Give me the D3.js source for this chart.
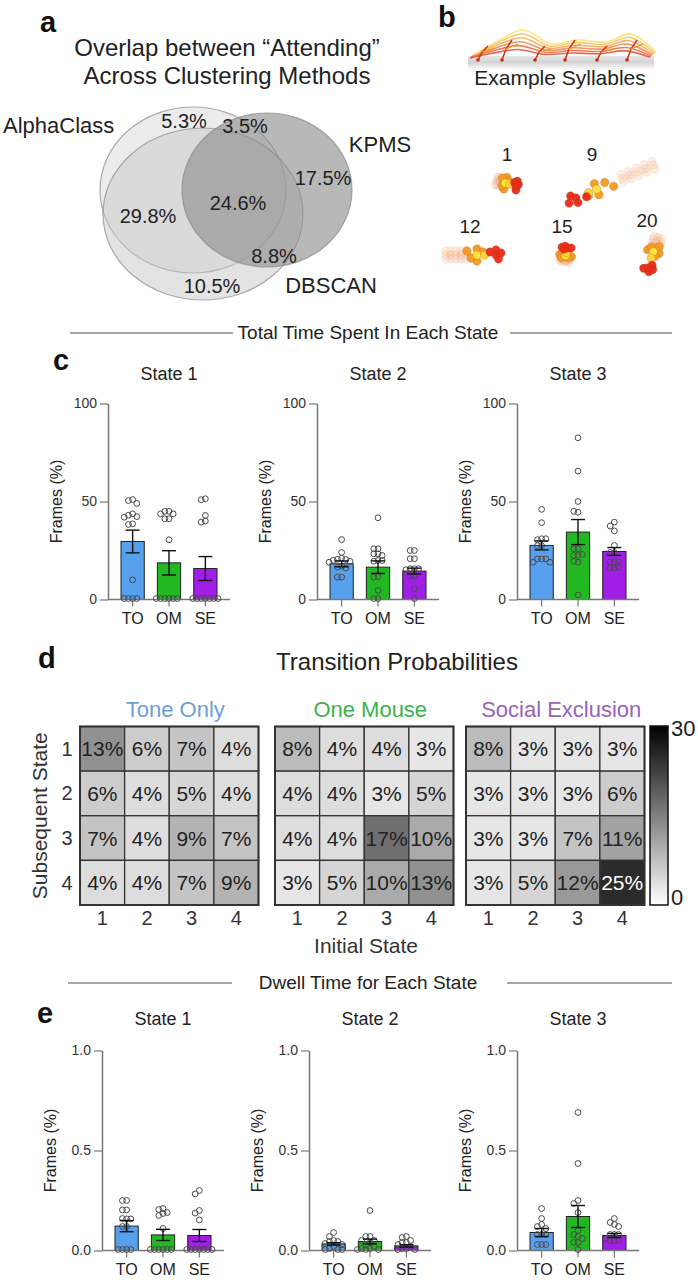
<!DOCTYPE html>
<html>
<head>
<meta charset="utf-8">
<script src="https://cdn.jsdelivr.net/npm/d3@7"></script>
<style>
  body { margin: 0; background: #fff; }
  svg text { font-family: "Liberation Sans", Arial, Helvetica, sans-serif; }
</style>
</head>
<body>
<div id="fig"></div>
<script>
// ---------- data ----------
const groups = ["TO", "OM", "SE"];
const groupColors = ["#57a0ee", "#22b822", "#a01ee6"];
const stateNames = ["State 1", "State 2", "State 3"];

// total time spent in each state (% frames)
const timeMeans = [[29.6, 18.7, 15.8], [18.2, 16.5, 14.5], [27.6, 34.4, 24.5]];
const timeSem = [[5.8, 6.2, 6.1], [1.5, 3.2, 1.5], [2.3, 6.4, 2.0]];
const timePts1 = [
  [51, 50.5, 49, 43.7, 43, 42.3, 42, 38.6, 38.3, 10, 0.5, 0.5, 0.5, 0.5],
  [45, 45, 43.7, 43.7, 41.2, 41.2, 30.5, 0.5, 0.5, 0.5, 0.5, 0.5, 0.5],
  [51.4, 50.9, 42.9, 40, 39.5, 0.5, 0.5, 0.5, 0.5, 0.5, 0.5, 0.5]
];
const timePts2 = [
  [30.6, 24, 21, 20.5, 20.4, 20, 19.5, 19, 17, 16.5, 16, 11.4, 11.4],
  [41.7, 25.9, 25.9, 23.3, 23.3, 22.5, 19.9, 19.5, 19.9, 11.7, 11.4, 4.6, 0.5, 0.5],
  [25, 25, 20.8, 20.8, 15.7, 15.7, 15.7, 15.2, 12.2, 12.2, 5.5, 0.5]
];
const timePts3 = [
  [46, 39.2, 31, 30.5, 31, 27.5, 27.5, 20.7, 20.7, 20.7, 19, 19],
  [82.5, 65.5, 50, 44.5, 45, 25.9, 25.9, 22.5, 22.5, 23, 19, 19.5, 2.3],
  [39.5, 37.5, 35, 27.6, 24, 24, 19.2, 19.2, 19.2, 16, 16, 16.5]
];

// dwell time for each state
const dwellMeans = [[0.122, 0.078, 0.075], [0.033, 0.045, 0.023], [0.09, 0.17, 0.075]];
const dwellSem = [[0.028, 0.028, 0.03], [0.006, 0.012, 0.006], [0.02, 0.055, 0.01]];
const dwellPts1 = [
  [0.25, 0.25, 0.203, 0.203, 0.158, 0.16, 0.158, 0.12, 0.12, 0.005, 0.005, 0.005, 0.005],
  [0.21, 0.205, 0.19, 0.185, 0.175, 0.11, 0.005, 0.005, 0.005, 0.005, 0.005, 0.005],
  [0.30, 0.283, 0.2, 0.187, 0.153, 0.005, 0.005, 0.005, 0.005, 0.005, 0.005, 0.005]
];
const dwellPts2 = [
  [0.09, 0.07, 0.05, 0.045, 0.045, 0.035, 0.03, 0.02, 0.01, 0.005, 0.005, 0.005],
  [0.2, 0.07, 0.07, 0.05, 0.05, 0.04, 0.03, 0.02, 0.01, 0.01, 0.005, 0.005, 0.005],
  [0.07, 0.065, 0.05, 0.04, 0.04, 0.03, 0.02, 0.01, 0.01, 0.005, 0.005]
];
const dwellPts3 = [
  [0.21, 0.16, 0.13, 0.12, 0.11, 0.08, 0.08, 0.08, 0.03, 0.03, 0.03],
  [0.69, 0.435, 0.25, 0.235, 0.19, 0.1, 0.08, 0.07, 0.06, 0.04, 0.04, 0.005],
  [0.16, 0.14, 0.13, 0.12, 0.08, 0.08, 0.08, 0.06, 0.05, 0.05, 0.05]
];

// transition probabilities (rows: subsequent state, cols: initial state)
const heatNames = ["Tone Only", "One Mouse", "Social Exclusion"];
const heatColors = ["#6e9fdb", "#3bb44a", "#9a62ba"];
const heatTO = [[13, 6, 7, 4], [6, 4, 5, 4], [7, 4, 9, 7], [4, 4, 7, 9]];
const heatOM = [[8, 4, 4, 3], [4, 4, 3, 5], [4, 4, 17, 10], [3, 5, 10, 13]];
const heatSE = [[8, 3, 3, 3], [3, 3, 3, 6], [3, 3, 7, 11], [3, 5, 12, 25]];
const stateIdx = [1, 2, 3, 4];

// venn
const vennSets = ["AlphaClass", "KPMS", "DBSCAN"];
const vennPct = ["5.3%", "3.5%", "17.5%", "24.6%", "29.8%", "8.8%", "10.5%"];

// example syllables
const syllables = [1, 9, 12, 15, 20];

// ---------- drawing ----------
const W = 698, H = 1280;
const svg = d3.select("#fig").append("svg").attr("width", W).attr("height", H);
const defs = svg.append("defs");

// panel letters
[["a", 40, 32], ["b", 438, 27], ["c", 53, 370], ["d", 38, 668], ["e", 37, 1023]].forEach(d => {
  svg.append("text").attr("x", d[1]).attr("y", d[2]).attr("font-size", 29)
    .attr("font-weight", 700).attr("fill", "#111").text(d[0]);
});

// ---- a: venn ----
svg.append("text").attr("x", 227).attr("y", 56).attr("text-anchor", "middle")
  .attr("font-size", 24).attr("fill", "#222").text("Overlap between \u201CAttending\u201D");
svg.append("text").attr("x", 227).attr("y", 84).attr("text-anchor", "middle")
  .attr("font-size", 24).attr("fill", "#222").text("Across Clustering Methods");

const ellipses = [
  {cx: 193, cy: 190, rx: 93, ry: 83, fill: "#c8c8c8", op: 0.35},
  {cx: 203, cy: 214, rx: 100, ry: 86, fill: "#c8c8c8", op: 0.5},
  {cx: 267, cy: 190, rx: 85, ry: 77, fill: "#8c8c8c", op: 0.62}
];
svg.append("g").selectAll("ellipse").data(ellipses).join("ellipse")
  .attr("cx", d => d.cx).attr("cy", d => d.cy).attr("rx", d => d.rx).attr("ry", d => d.ry)
  .attr("fill", d => d.fill).attr("fill-opacity", d => d.op)
  .attr("stroke", "#8a8a8a").attr("stroke-opacity", 0.7).attr("stroke-width", 1.2);

const vennNamePos = [[3, 133, "start"], [380, 152, "middle"], [331, 293, "middle"]];
vennSets.forEach((s, i) => {
  svg.append("text").attr("x", vennNamePos[i][0]).attr("y", vennNamePos[i][1])
    .attr("text-anchor", vennNamePos[i][2]).attr("font-size", 22).attr("fill", "#222").text(s);
});
const vennPctPos = [[184, 128], [245, 133], [323, 185], [238, 210], [148, 223], [274, 263], [212, 293]];
vennPct.forEach((p, i) => {
  svg.append("text").attr("x", vennPctPos[i][0]).attr("y", vennPctPos[i][1])
    .attr("text-anchor", "middle").attr("font-size", 20).attr("fill", "#222").text(p);
});

// ---- b: example syllables ----
const shadow = defs.append("linearGradient").attr("id", "shadow").attr("x1", 0).attr("x2", 0).attr("y1", 0).attr("y2", 1);
shadow.append("stop").attr("offset", "0%").attr("stop-color", "#e6e6e6");
shadow.append("stop").attr("offset", "45%").attr("stop-color", "#d4d4d4");
shadow.append("stop").attr("offset", "100%").attr("stop-color", "#ffffff");
svg.append("rect").attr("x", 468).attr("y", 56).attr("width", 186).attr("height", 14).attr("fill", "url(#shadow)");

const skel = svg.append("g");
const spineX = [470, 490, 518, 545, 572, 600, 625, 650];
const spineH = [6, 18, 30, 16, 20, 18, 26, 8];
const skLine = d3.line().curve(d3.curveCatmullRom);
d3.range(6).forEach(f => {
  const c = d3.interpolateRgb("#e2341c", "#f8dc55")(f / 5);
  skel.append("path")
    .attr("d", skLine(spineX.map((x, i) => [x + f * 1.2, 60 - spineH[i] * (0.35 + 0.13 * f)])))
    .attr("fill", "none").attr("stroke", c).attr("stroke-width", 1.6).attr("stroke-opacity", 0.75);
});
[478, 502, 535, 565, 597, 627].forEach((x, i) => {
  const h = 14 + (i % 2) * 6;
  skel.append("path").attr("d", `M${x},60 L${x + 4},${60 - h * 0.55} L${x + 10},${60 - h}`)
    .attr("fill", "none").attr("stroke", "#cf3a1c").attr("stroke-width", 1.6);
  skel.append("path").attr("d", `M${x + 4},${60 - h * 0.55} L${x + 16},${60 - h * 0.8}`)
    .attr("fill", "none").attr("stroke", "#e6a025").attr("stroke-width", 1.3);
  skel.append("circle").attr("cx", x).attr("cy", 60).attr("r", 1.8).attr("fill", "#c62a18");
});
svg.append("text").attr("x", 560).attr("y", 85).attr("text-anchor", "middle")
  .attr("font-size", 21).attr("fill", "#222").text("Example Syllables");

// pose blobs: head position, direction toward tail (deg), tail length
const blobSpec = [
  {lx: 507, ly: 161, hx: 516, hy: 186, ang: 195, len: 20},
  {lx: 592, ly: 161, hx: 576, hy: 198, ang: -23, len: 84},
  {lx: 470, ly: 233, hx: 496, hy: 255, ang: 180, len: 50},
  {lx: 562, ly: 233, hx: 567, hy: 248, ang: 100, len: 14},
  {lx: 647, ly: 227, hx: 648, hy: 268, ang: -72, len: 32}
];
const blobs = svg.append("g");
syllables.forEach((s, i) => {
  const b = blobSpec[i];
  blobs.append("text").attr("x", b.lx).attr("y", b.ly).attr("text-anchor", "middle")
    .attr("font-size", 19).attr("fill", "#222").text(s);
  const ux = Math.cos(b.ang * Math.PI / 180), uy = Math.sin(b.ang * Math.PI / 180);
  const px = -uy, py = ux;
  const at = (t, o) => [b.hx + ux * b.len * t + px * o, b.hy + uy * b.len * t + py * o];
  const pts = [];
  // faded tail
  [1.0, 0.9, 0.8, 0.7, 0.6].forEach((t, k) => {
    pts.push({p: at(t, 0), c: k % 2 ? "#f7b4a4" : "#fbd690", o: 0.35});
    pts.push({p: at(t, 4), c: "#f9c8a0", o: 0.3});
    pts.push({p: at(t, -4), c: "#f9c0b0", o: 0.3});
  });
  // body: orange ring, yellow core
  const bt = Math.min(0.45, 14 / Math.max(b.len, 1)) + 0.1;
  [[bt, 6], [bt, -6], [bt - 0.12, 3], [bt + 0.12, -3], [bt + 0.2, 4]].forEach(q =>
    pts.push({p: at(q[0], q[1]), c: "#f39a22", o: 0.95}));
  pts.push({p: at(bt, 0), c: "#ffe53a", o: 1});
  pts.push({p: at(bt * 0.6, 0), c: "#ffd23a", o: 1});
  // red head
  [[0, 0], [0, 5], [-0.05, -4], [0.12, 3], [-0.1, 2]].forEach(q =>
    pts.push({p: at(q[0], q[1]), c: "#e82a1a", o: 0.95}));
  blobs.selectAll(null).data(pts).join("circle")
    .attr("cx", d => d.p[0]).attr("cy", d => d.p[1]).attr("r", 4.2)
    .attr("fill", d => d.c).attr("fill-opacity", d => d.o)
    .attr("stroke", "#b85a1a").attr("stroke-opacity", d => d.o * 0.5).attr("stroke-width", 0.6);
});

// ---- section dividers ----
function divider(y, label, left, right) {
  svg.append("line").attr("x1", left[0]).attr("x2", left[1]).attr("y1", y).attr("y2", y)
    .attr("stroke", "#888").attr("stroke-width", 1.5);
  svg.append("line").attr("x1", right[0]).attr("x2", right[1]).attr("y1", y).attr("y2", y)
    .attr("stroke", "#888").attr("stroke-width", 1.5);
  svg.append("text").attr("x", 368).attr("y", y + 6).attr("text-anchor", "middle")
    .attr("font-size", 19).attr("fill", "#222").text(label);
}
divider(333, "Total Time Spent In Each State", [70, 233], [510, 672]);
divider(983, "Dwell Time for Each State", [68, 232], [507, 672]);

// ---- bar charts ----
function swarm(vals, y, cx, r) {
  const placed = [];
  const offs = [0, -1, 1, -2, 2, -3, 3, -4, 4];
  return vals.map(v => {
    const yy = y(v);
    for (const o of offs) {
      const xx = cx + o * r * 1.4;
      if (placed.every(p => Math.hypot(p[0] - xx, p[1] - yy) >= r * 1.35)) {
        placed.push([xx, yy]);
        return [xx, yy];
      }
    }
    placed.push([cx, yy]);
    return [cx, yy];
  });
}

function barChart(cfg) {
  const g = svg.append("g");
  const y = d3.scaleLinear().domain([0, cfg.max]).range([cfg.y0, cfg.y0 - cfg.h]);
  const x = d3.scaleBand().domain(groups).range([cfg.x0 + 13, cfg.x0 + 109]).paddingInner(0.36).paddingOuter(0);

  g.append("text").attr("x", cfg.x0 + 61).attr("y", cfg.titleY).attr("text-anchor", "middle")
    .attr("font-size", 18).attr("fill", "#222").text(cfg.title);

  const ya = g.append("g").attr("transform", `translate(${cfg.x0},0)`)
    .call(d3.axisLeft(y).tickValues(cfg.ticks).tickFormat(cfg.fmt).tickSize(8).tickPadding(3).tickSizeOuter(0));
  ya.select(".domain").attr("stroke", "#777").attr("stroke-width", 1.5);
  ya.selectAll(".tick line").attr("stroke", "#777").attr("stroke-width", 1.2);
  ya.selectAll(".tick text").attr("font-size", 14).attr("fill", "#333")
    .attr("font-family", '"Liberation Sans", Arial, sans-serif');

  g.append("text").attr("transform", `translate(${cfg.x0 - 46},${cfg.y0 - cfg.h / 2}) rotate(-90)`)
    .attr("text-anchor", "middle").attr("font-size", 16).attr("fill", "#222").text("Frames (%)");

  g.selectAll("rect.bar").data(groups).join("rect").attr("class", "bar")
    .attr("x", d => x(d)).attr("width", x.bandwidth())
    .attr("y", (d, i) => y(cfg.means[i])).attr("height", (d, i) => cfg.y0 - y(cfg.means[i]))
    .attr("fill", (d, i) => groupColors[i]).attr("stroke", "#222").attr("stroke-width", 1);

  const xa = g.append("g").attr("transform", `translate(0,${cfg.y0})`)
    .call(d3.axisBottom(x).tickSize(7).tickPadding(6).tickSizeOuter(0));
  xa.select(".domain").remove();
  xa.selectAll(".tick line").attr("stroke", "#777").attr("stroke-width", 1.2);
  xa.selectAll(".tick text").attr("font-size", 16).attr("fill", "#222")
    .attr("font-family", '"Liberation Sans", Arial, sans-serif');
  g.append("line").attr("x1", cfg.x0).attr("x2", cfg.x0 + 122).attr("y1", cfg.y0).attr("y2", cfg.y0)
    .attr("stroke", "#777").attr("stroke-width", 1.5);

  groups.forEach((gr, i) => {
    const cx = x(gr) + x.bandwidth() / 2;
    const pos = swarm(cfg.points[i], y, cx, 3);
    g.selectAll(null).data(pos).join("circle")
      .attr("cx", d => d[0]).attr("cy", d => d[1]).attr("r", 2.9)
      .attr("fill", "none").attr("stroke", "#4a4a4a").attr("stroke-width", 1);
    const lo = y(cfg.means[i] - cfg.sems[i]), hi = y(cfg.means[i] + cfg.sems[i]);
    g.append("line").attr("x1", cx).attr("x2", cx).attr("y1", lo).attr("y2", hi)
      .attr("stroke", "#111").attr("stroke-width", 1.4);
    [lo, hi].forEach(v => g.append("line").attr("x1", cx - 7).attr("x2", cx + 7)
      .attr("y1", v).attr("y2", v).attr("stroke", "#111").attr("stroke-width", 1.4));
  });
}

const timePts = [timePts1, timePts2, timePts3];
const dwellPts = [dwellPts1, dwellPts2, dwellPts3];
const cX0 = [108, 317, 517];
const eX0 = [102, 309, 517];
stateNames.forEach((s, i) => {
  barChart({x0: cX0[i], y0: 599.5, h: 196, max: 100, ticks: [0, 50, 100], fmt: d3.format("d"),
    title: s, titleY: 380, means: timeMeans[i], sems: timeSem[i], points: timePts[i]});
  barChart({x0: eX0[i], y0: 1250.5, h: 200, max: 1, ticks: [0, 0.5, 1], fmt: d3.format(".1f"),
    title: s, titleY: 1025, means: dwellMeans[i], sems: dwellSem[i], points: dwellPts[i]});
});

// ---- d: transition heatmaps ----
svg.append("text").attr("x", 397).attr("y", 670).attr("text-anchor", "middle")
  .attr("font-size", 24).attr("fill", "#222").text("Transition Probabilities");

const color = d3.scaleLinear().domain([0, 30]).range(["#ffffff", "#000000"]);
const heatData = [heatTO, heatOM, heatSE];
const hX0 = [80, 275, 466];
const hY0 = 726.5, hS = 178.5;
const row = d3.scaleBand().domain(stateIdx).range([hY0, hY0 + hS]);

heatData.forEach((m, k) => {
  const g = svg.append("g");
  const col = d3.scaleBand().domain(stateIdx).range([hX0[k], hX0[k] + hS]);
  g.append("text").attr("x", hX0[k] + hS / 2 + 6).attr("y", 717).attr("text-anchor", "middle")
    .attr("font-size", 22).attr("fill", heatColors[k]).text(heatNames[k]);
  const cells = m.flatMap((r, ri) => r.map((v, ci) => ({r: stateIdx[ri], c: stateIdx[ci], v})));
  g.selectAll("rect").data(cells).join("rect")
    .attr("x", d => col(d.c)).attr("y", d => row(d.r))
    .attr("width", col.bandwidth()).attr("height", row.bandwidth())
    .attr("fill", d => color(d.v)).attr("stroke", "#333").attr("stroke-width", 1.3);
  g.append("rect").attr("x", hX0[k]).attr("y", hY0).attr("width", hS).attr("height", hS)
    .attr("fill", "none").attr("stroke", "#333").attr("stroke-width", 2);
  g.selectAll("text.v").data(cells).join("text").attr("class", "v")
    .attr("x", d => col(d.c) + col.bandwidth() / 2).attr("y", d => row(d.r) + row.bandwidth() / 2 + 7.5)
    .attr("text-anchor", "middle").attr("font-size", 21)
    .attr("fill", d => d.v > 18 ? "#fff" : "#222").text(d => d.v + "%");
  g.selectAll("text.cx").data(stateIdx).join("text").attr("class", "cx")
    .attr("x", d => col(d) + col.bandwidth() / 2).attr("y", 925).attr("text-anchor", "middle")
    .attr("font-size", 20).attr("fill", "#333").text(d => d);
});
svg.selectAll("text.ry").data(stateIdx).join("text").attr("class", "ry")
  .attr("x", 67).attr("y", d => row(d) + row.bandwidth() / 2 + 7).attr("text-anchor", "middle")
  .attr("font-size", 20).attr("fill", "#333").text(d => d);
svg.append("text").attr("transform", `translate(47,${hY0 + hS / 2}) rotate(-90)`)
  .attr("text-anchor", "middle").attr("font-size", 21).attr("fill", "#333").text("Subsequent State");
svg.append("text").attr("x", 366).attr("y", 953).attr("text-anchor", "middle")
  .attr("font-size", 21).attr("fill", "#333").text("Initial State");

// colour bar
const cb = defs.append("linearGradient").attr("id", "cbar").attr("x1", 0).attr("x2", 0).attr("y1", 1).attr("y2", 0);
cb.append("stop").attr("offset", "0%").attr("stop-color", color(0));
cb.append("stop").attr("offset", "100%").attr("stop-color", color(30));
const cbY = d3.scaleLinear().domain([0, 30]).range([905, 726]);
svg.append("rect").attr("x", 650).attr("y", cbY(30)).attr("width", 18).attr("height", cbY(0) - cbY(30))
  .attr("fill", "url(#cbar)").attr("stroke", "#111").attr("stroke-width", 1.5);
svg.selectAll("text.cb").data([30, 0]).join("text").attr("class", "cb")
  .attr("x", 671).attr("y", d => d === 30 ? cbY(d) + 10 : cbY(d))
  .attr("font-size", 22).attr("fill", "#222").text(d => d);
</script>
</body>
</html>
